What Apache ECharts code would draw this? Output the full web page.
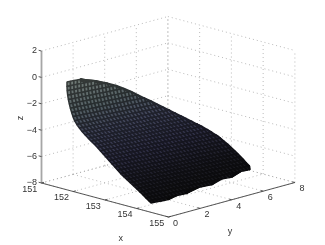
<!DOCTYPE html>
<html>
<head>
<meta charset="utf-8">
<style>html,body{margin:0;padding:0;background:#fff}#c{width:325px;height:245px;filter:blur(0.35px)}</style>
<script src="https://cdn.jsdelivr.net/npm/echarts@6/dist/echarts.min.js"></script>
</head>
<body>
<div id="c"></div>
<script>
// Axis ticks
const xTicks = [151, 152, 153, 154, 155];
const yTicks = [0, 2, 4, 6, 8];
const zTicks = [-8, -6, -4, -2, 0, 2];

// Surface: each row runs in y from 0 to rowYEnd
const rowX = [151.803,151.803,151.809,151.825,151.847,151.876,151.910,151.948,151.992,152.043,152.112,152.194,152.279,152.370,152.468,152.565,152.663,152.761,152.852,152.943,153.035,153.126,153.217,153.309,153.400,153.491,153.592,153.693,153.794,153.894,153.995,154.093,154.191,154.288,154.386,154.449];
const rowZStart = [0.169,-0.164,-0.494,-0.817,-1.136,-1.444,-1.747,-2.041,-2.331,-2.609,-2.852,-3.072,-3.275,-3.466,-3.654,-3.825,-3.998,-4.170,-4.361,-4.552,-4.736,-4.919,-5.110,-5.302,-5.492,-5.683,-5.846,-6.008,-6.171,-6.333,-6.503,-6.667,-6.839,-7.011,-7.183,-7.295];
const rowYEnd = [0.85,1.80,2.49,3.07,3.52,3.91,4.25,4.59,4.94,5.23,5.48,5.69,5.87,6.04,6.20,6.34,6.48,6.62,6.75,6.88,6.97,7.05,7.11,7.16,7.19,7.23,7.22,7.20,7.19,7.16,7.15,6.98,5.65,4.18,2.34,1.08];
const rowZEnd = [0.095,-0.321,-0.711,-1.084,-1.442,-1.784,-2.117,-2.440,-2.761,-3.064,-3.329,-3.567,-3.786,-3.991,-4.193,-4.377,-4.562,-4.746,-4.948,-5.151,-5.342,-5.532,-5.729,-5.925,-6.118,-6.312,-6.474,-6.634,-6.797,-6.956,-7.125,-7.274,-7.331,-7.375,-7.387,-7.389];
const firstSteppedRow = 32;   // rows whose ends form the stepped lower edge
const stepShare = 0.55;       // how far a stepped strip runs past the next row's end
const meshStepY = 0.22;

// Facet colour against z
const colorZ = [-7.4, -6.5, -5, -3.5, -2, 0];
const colorRGB = [[22,22,25],[30,30,38],[48,48,70],[66,70,92],[84,96,100],[112,122,118]];

// Oblique view: screen position of a data point, on a plane matching the page
function project(x, y, z) {
  return [41.5 + 31.75 * (x - 151) + 15.8 * y,
          183 + 8.5 * (x - 151) - 4.31 * y - 13.2 * (z + 8)];
}
function mixRGB(z, scale) {
  let k = 0;
  while (k < colorZ.length - 2 && z > colorZ[k + 1]) k++;
  const t = Math.max(0, Math.min(1, (z - colorZ[k]) / (colorZ[k + 1] - colorZ[k])));
  const c = colorRGB[k].map((v, n) => Math.round((v + (colorRGB[k + 1][n] - v) * t) * scale));
  return 'rgb(' + c.join(',') + ')';
}

// Wall and floor grid
const gridSegs = [];
const X0 = xTicks[0], X1 = xTicks[xTicks.length - 1];
const Y0 = yTicks[0], Y1 = yTicks[yTicks.length - 1];
const Z0 = zTicks[0], Z1 = zTicks[zTicks.length - 1];
zTicks.forEach(z => {
  gridSegs.push([X0, Y0, z, X0, Y1, z]);
  gridSegs.push([X0, Y1, z, X1, Y1, z]);
});
xTicks.forEach(x => {
  gridSegs.push([x, Y1, Z0, x, Y1, Z1]);
  gridSegs.push([x, Y0, Z0, x, Y1, Z0]);
});
yTicks.forEach(y => {
  gridSegs.push([X0, y, Z0, X0, y, Z1]);
  gridSegs.push([X0, y, Z0, X1, y, Z0]);
});

// Axis lines and ticks
const floorAxisSegs = [[X0, Y0, Z0, X1, Y0, Z0], [X1, Y0, Z0, X1, Y1, Z0]];
xTicks.forEach(x => floorAxisSegs.push([x, Y0, Z0, x, Y0 + 0.16, Z0]));
yTicks.forEach(y => floorAxisSegs.push([X1, y, Z0, X1 - 0.08, y, Z0]));
zTicks.forEach(z => floorAxisSegs.push([X0, Y0, z, X0 - 0.09, Y0, z]));
const zAxisSegs = [[X0, Y0, Z0, X0, Y0, Z1]];

// Mesh cells
const cells = [];
function zOn(i, y) {
  return rowZStart[i] + (rowZEnd[i] - rowZStart[i]) * y / rowYEnd[i];
}
for (let i = 0; i < rowX.length - 1; i++) {
  const limB = rowYEnd[i + 1];
  const limA = i + 1 >= firstSteppedRow ? limB + stepShare * (rowYEnd[i] - limB) : rowYEnd[i];
  const lim = Math.max(limA, limB);
  for (let j = 0; j * meshStepY < lim; j++) {
    const y1 = j * meshStepY, y2 = (j + 1) * meshStepY;
    const a1 = Math.min(y1, limA), a2 = Math.min(y2, limA);
    const b1 = Math.min(y1, limB), b2 = Math.min(y2, limB);
    const z = [zOn(i, a1), zOn(i, a2), zOn(i + 1, b2), zOn(i + 1, b1)];
    cells.push([
      rowX[i], a1, z[0], rowX[i], a2, z[1],
      rowX[i + 1], b2, z[2], rowX[i + 1], b1, z[3],
      (z[0] + z[1] + z[2] + z[3]) / 4
    ]);
  }
}

// Text
const labelFont = '9px "Liberation Sans", Arial, sans-serif';
const labels = [];
xTicks.forEach(x => labels.push([x, Y0, Z0, -11.8, 6.2, String(x), 'center', 0]));
yTicks.forEach(y => labels.push([X1, y, Z0, 7, 6.3, String(y), 'center', 0]));
zTicks.forEach(z => labels.push([X0, Y0, z, -4.5, 0, z < 0 ? '\u2212' + (-z) : String(z), 'right', 0]));
const titles = [
  [153, Y0, Z0, -0.3, 0, 'x', 'center', 0, 120.7, 238.5],
  [X1, 4, Z0, 0, 0, 'y', 'center', 0, 230, 231.5],
  [X0, Y0, -3, 0, 0, 'z', 'center', 90, 21, 118]
];

function lineSeries(data, stroke, width, dash, z) {
  return {
    type: 'custom', coordinateSystem: 'cartesian2d', silent: true, z: z,
    clip: false, animation: false, data: data,
    encode: { x: 0, y: 1 },
    renderItem: (p, api) => {
      const a = api.coord(project(api.value(0), api.value(1), api.value(2)));
      const b = api.coord(project(api.value(3), api.value(4), api.value(5)));
      return {
        type: 'line',
        shape: { x1: a[0], y1: a[1], x2: b[0], y2: b[1] },
        style: { stroke: stroke, lineWidth: width, lineDash: dash, fill: null }
      };
    }
  };
}

const chart = echarts.init(document.getElementById('c'), null, { renderer: 'canvas' });
chart.setOption({
  animation: false,
  backgroundColor: '#fff',
  grid: { left: 0, right: 0, top: 0, bottom: 0 },
  xAxis: { type: 'value', min: 0, max: 325, show: false },
  yAxis: { type: 'value', min: 0, max: 245, inverse: true, show: false },
  series: [
    lineSeries(gridSegs, '#a8a8a8', 0.8, [1, 3], 1),
    lineSeries(zAxisSegs, '#a6a6a6', 1.8, null, 2),
    lineSeries(floorAxisSegs, '#444', 0.9, null, 3),
    {
      type: 'custom', coordinateSystem: 'cartesian2d', silent: true, z: 4,
      clip: false, animation: false, data: cells, encode: { x: 0, y: 1 },
      renderItem: (p, api) => {
        const pts = [];
        for (let k = 0; k < 4; k++) {
          pts.push(api.coord(project(api.value(k * 3), api.value(k * 3 + 1), api.value(k * 3 + 2))));
        }
        const z = api.value(12);
        return {
          type: 'polygon',
          shape: { points: pts },
          style: { fill: mixRGB(z, 1), stroke: mixRGB(z, 0.48), lineWidth: 1.5, lineJoin: 'bevel' }
        };
      }
    },
    {
      type: 'custom', coordinateSystem: 'cartesian2d', silent: true, z: 5,
      clip: false, animation: false, data: labels,
      encode: { x: 0, y: 1 },
      renderItem: (p, api) => {
        const l = labels[p.dataIndex];
        const q = api.coord(project(l[0], l[1], l[2]));
        return {
          type: 'text',
          style: { x: q[0] + l[3], y: q[1] + l[4], text: l[5], font: labelFont, fill: '#333', align: l[6], verticalAlign: 'middle' }
        };
      }
    },
    {
      type: 'custom', coordinateSystem: 'cartesian2d', silent: true, z: 5,
      clip: false, animation: false, data: titles, encode: { x: 0, y: 1 },
      renderItem: (p, api) => {
        const l = titles[p.dataIndex];
        const q = api.coord([l[8], l[9]]);
        return {
          type: 'text', x: q[0], y: q[1], rotation: l[7] * Math.PI / 180,
          style: { x: 0, y: 0, text: l[5], font: labelFont, fill: '#333', align: 'center', verticalAlign: 'middle' }
        };
      }
    }
  ]
});
</script>
</body>
</html>
